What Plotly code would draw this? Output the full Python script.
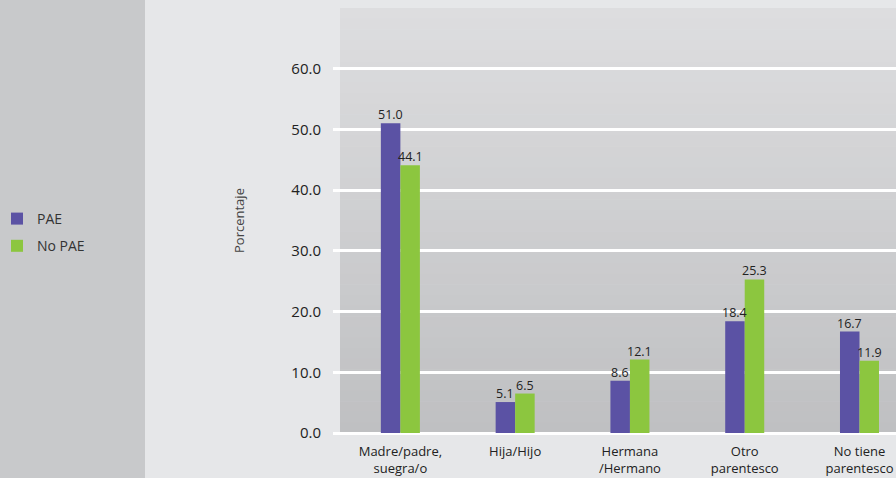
import plotly.graph_objects as go

categories = ["Madre/padre,<br>suegra/o", "Hija/Hijo", "Hermana<br>/Hermano", "Otro<br>parentesco", "No tiene<br>parentesco"]
pae = [51.0, 5.1, 8.6, 18.4, 16.7]
no_pae = [44.1, 6.5, 12.1, 25.3, 11.9]
series_names = ["PAE", "No PAE"]
ytick_vals = [0, 10, 20, 30, 40, 50, 60]
ytick_text = ["0.0", "10.0", "20.0", "30.0", "40.0", "50.0", "60.0"]

FONT = "Open Sans"
W, H = 896, 478
ML, MR, MT, MB = 333, 0, 8, 45
pw, ph = W - ML - MR, H - MT - MB
BAR_PX = 19.5

def px_x(x):
    return (x - ML) / pw

def px_y(y):
    return (H - MB - y) / ph

xs = list(range(len(categories)))
fig = go.Figure()
fig.add_trace(go.Bar(
    x=xs, y=pae, name=series_names[0],
    marker=dict(color="#5b52a4", line=dict(width=0)),
    legendgroup="a",
))
fig.add_trace(go.Bar(
    x=xs, y=no_pae, name=series_names[1],
    marker=dict(color="#8cc63f", line=dict(width=0)),
    legendgroup="b",
))

annotations = []
for vals, shift in ((pae, -BAR_PX / 2), (no_pae, BAR_PX / 2)):
    for i, v in zip(xs, vals):
        annotations.append(dict(x=i, y=v, xref="x", yref="y", text=f"{v:.1f}",
                                showarrow=False, xshift=shift, yshift=-2,
                                yanchor="bottom", xanchor="center",
                                font=dict(family=FONT, size=12.5, color="#222")))

shapes = []
# left panel
shapes.append(dict(type="rect", xref="paper", yref="paper",
                   x0=px_x(0), x1=px_x(145), y0=px_y(H), y1=px_y(0),
                   fillcolor="#c8c9cb", line=dict(width=0), layer="below"))
# gradient plot background
n = 40
top = (221, 221, 223)
bot = (191, 192, 194)
y_top, y_bot = 8, 433
for i in range(n):
    t = i / (n - 1)
    c = tuple(int(round(top[k] + (bot[k] - top[k]) * t)) for k in range(3))
    ya = y_top + (y_bot - y_top) * i / n
    yb = y_top + (y_bot - y_top) * (i + 1) / n
    shapes.append(dict(type="rect", xref="paper", yref="paper",
                       x0=px_x(340), x1=1.0, y0=px_y(yb + 0.5), y1=px_y(ya),
                       fillcolor="rgb(%d,%d,%d)" % c, line=dict(width=0), layer="below"))

fig.update_layout(
    width=W, height=H,
    margin=dict(l=ML, r=MR, t=MT, b=MB, autoexpand=False),
    paper_bgcolor="#e6e7e9",
    plot_bgcolor="rgba(0,0,0,0)",
    barmode="group", bargap=0.66, bargroupgap=0,
    shapes=shapes,
    annotations=annotations,
    font=dict(family=FONT, color="#222"),
    showlegend=True,
    legend=dict(x=px_x(-3), xanchor="left", y=px_y(203), yanchor="top",
                bgcolor="rgba(0,0,0,0)", font=dict(family=FONT, size=14, color="#333"),
                tracegroupgap=6, traceorder="grouped", itemwidth=30),
    xaxis=dict(range=[-0.587, 4.318], tickvals=xs,
               ticktext=categories, showgrid=False, zeroline=False, showline=False,
               ticks="", ticklabelstandoff=9,
               tickfont=dict(family=FONT, size=13, color="#222"),
               fixedrange=True),
    yaxis=dict(range=[0, 70], tickvals=ytick_vals, ticktext=ytick_text,
               showgrid=True, gridcolor="#ffffff", gridwidth=3,
               zeroline=True, zerolinecolor="#ffffff", zerolinewidth=3,
               showline=False, ticks="", ticklabelstandoff=11,
               tickfont=dict(family=FONT, size=15, color="#222"),
               title=dict(text="Porcentaje", font=dict(family=FONT, size=13, color="#444"),
                          standoff=43)),
)

fig.write_html("out.html")
